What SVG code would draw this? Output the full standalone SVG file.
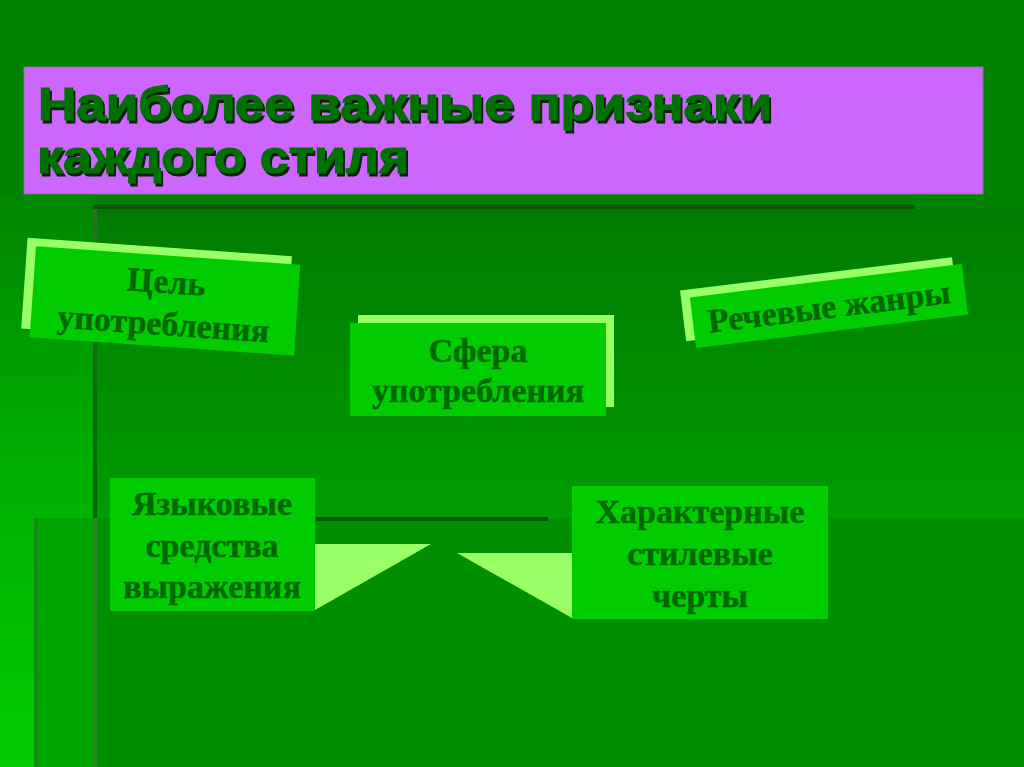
<svg xmlns="http://www.w3.org/2000/svg" width="1024" height="767" viewBox="0 0 1024 767">
  <defs>
    <linearGradient id="gLeft" x1="0" y1="195" x2="0" y2="767" gradientUnits="userSpaceOnUse">
      <stop offset="0" stop-color="#008600"/>
      <stop offset="0.5" stop-color="#00b000"/>
      <stop offset="1" stop-color="#00cc00"/>
    </linearGradient>
    <linearGradient id="gUpper" x1="0" y1="209" x2="0" y2="518" gradientUnits="userSpaceOnUse">
      <stop offset="0" stop-color="#007c00"/>
      <stop offset="1" stop-color="#009c00"/>
    </linearGradient>
    <linearGradient id="gVline" x1="0" y1="205" x2="0" y2="518" gradientUnits="userSpaceOnUse">
      <stop offset="0" stop-color="#2e6e2e"/>
      <stop offset="1" stop-color="#006600"/>
    </linearGradient>
    <filter id="shadow" x="-5%" y="-20%" width="110%" height="150%">
      <feOffset in="SourceAlpha" dx="2" dy="3" result="o"/>
      <feFlood flood-color="#0a200a"/>
      <feComposite in2="o" operator="in" result="s"/>
      <feMerge>
        <feMergeNode in="s"/>
        <feMergeNode in="SourceGraphic"/>
      </feMerge>
    </filter>
    <style>
      .box { fill: #00cc00; }
      .back { fill: #99ff66; }
      .tri { fill: #99ff66; }
      .lbl { font-family: "Liberation Serif", "Times New Roman", serif; font-weight: bold; font-size: 34px; fill: #006800; stroke: #006800; stroke-width: 0.4; text-anchor: middle; }
      .ttl { font-family: "Liberation Sans", Arial, sans-serif; font-weight: bold; font-size: 46px; fill: #007000; stroke: #007000; stroke-width: 1.2; }
    </style>
  </defs>

  <g id="background">
    <rect x="0" y="0" width="1024" height="767" fill="#008200"/>
    <rect x="0" y="195" width="93" height="572" fill="url(#gLeft)"/>
    <rect x="97" y="209" width="927" height="309" fill="url(#gUpper)"/>
    <rect x="93" y="205" width="4" height="313" fill="url(#gVline)"/>
    <rect x="34" y="518" width="990" height="249" fill="#008f00"/>
    <rect x="38" y="518" width="55" height="249" fill="#00a200"/>
    <rect x="34" y="518" width="4" height="249" fill="#168816"/>
    <rect x="93" y="518" width="4" height="249" fill="#268a26"/>
    <rect x="93" y="204" width="822" height="5" fill="#005c00"/>
    <rect x="316" y="517" width="232" height="4" fill="#005500"/>
  </g>

  <g id="title">
    <rect x="24" y="67" width="959" height="127" fill="#cc66ff" stroke="#7f7f7f" stroke-width="1"/>
    <g filter="url(#shadow)">
      <text class="ttl" x="38" y="120" textLength="734" lengthAdjust="spacingAndGlyphs">Наиболее важные признаки</text>
      <text class="ttl" x="37" y="173" textLength="372" lengthAdjust="spacingAndGlyphs">каждого стиля</text>
    </g>
  </g>

  <g id="connectors">
    <polygon class="tri" points="315,544 431,544 315,610"/>
    <polygon class="tri" points="457,553 572,553 572,618"/>
  </g>

  <g id="node-cel" transform="translate(165,301) rotate(4)">
    <rect class="back" x="-141.5" y="-53.5" width="265" height="91"/>
    <rect class="box" x="-132.5" y="-45.5" width="265" height="91"/>
    <text class="lbl" x="0" y="-8">Цель</text>
    <text class="lbl" x="0" y="34">употребления</text>
  </g>

  <g id="node-sfera">
    <rect class="back" x="358" y="315" width="256" height="92"/>
    <rect class="box" x="350" y="323" width="256" height="93"/>
    <text class="lbl" x="478" y="362">Сфера</text>
    <text class="lbl" x="478" y="402">употребления</text>
  </g>

  <g id="node-zhanry" transform="translate(829,306) rotate(-7)">
    <rect class="back" x="-146" y="-33.5" width="274" height="51"/>
    <rect class="box" x="-137" y="-25.5" width="274" height="51"/>
    <text class="lbl" x="0" y="12">Речевые жанры</text>
  </g>

  <g id="node-yazyk">
    <rect class="box" x="110" y="478" width="205" height="133"/>
    <text class="lbl" x="212" y="515">Языковые</text>
    <text class="lbl" x="212" y="557">средства</text>
    <text class="lbl" x="212" y="598">выражения</text>
  </g>

  <g id="node-cherty">
    <rect class="box" x="572" y="486" width="256" height="133"/>
    <text class="lbl" x="700" y="523">Характерные</text>
    <text class="lbl" x="700" y="565">стилевые</text>
    <text class="lbl" x="700" y="607">черты</text>
  </g>
</svg>
